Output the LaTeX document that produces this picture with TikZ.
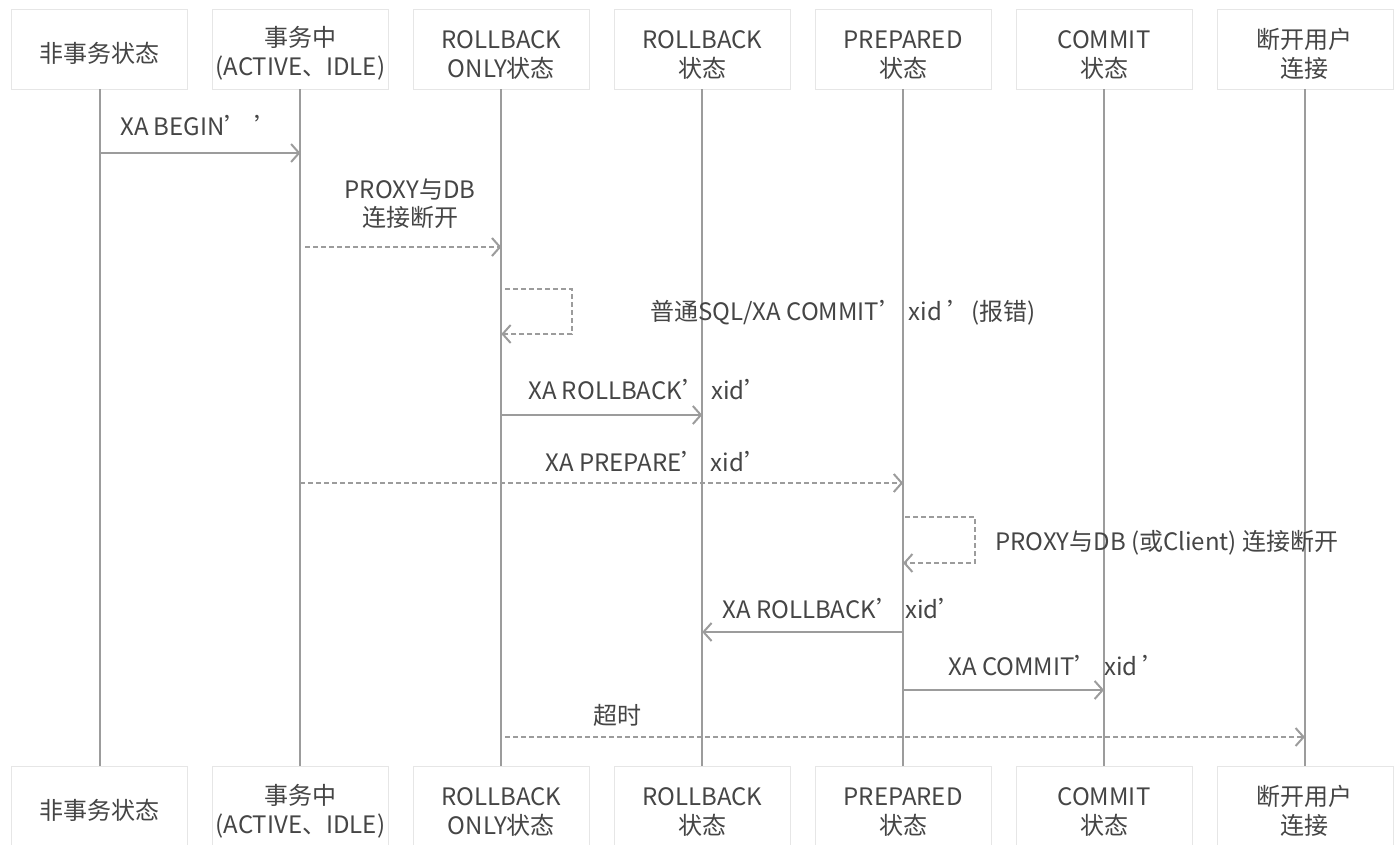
\documentclass[tikz,border=0pt]{standalone}
\usepackage{fontspec}
\usepackage{tikz}
\usetikzlibrary{arrows.meta,positioning,shadows}
\newfontfamily\cjk{Noto Sans CJK SC}
\newcommand{\topgap}{\rule{0pt}{29pt}}
\definecolor{inkgray}{HTML}{454545}
\definecolor{linegray}{HTML}{9C9C9C}
\definecolor{edgegray}{HTML}{E6E6E6}

\begin{document}
\begin{tikzpicture}[x=1pt, y=-1pt,
    node distance=677pt and 24.5pt,
    state/.style={draw=edgegray, fill=white, minimum width=176pt, minimum height=80pt, inner sep=0pt, align=center, text=inkgray, font=\cjk\fontsize{24}{29}\selectfont, drop shadow={shadow xshift=0pt, shadow yshift=-1.5pt, opacity=0.12}},
    life/.style={linegray, line width=2pt},
    msg/.style={linegray, line width=2pt, -{Straight Barb[length=8pt, width=18pt]}},
    dmsg/.style={msg, dash pattern=on 5pt off 3pt},
    lbl/.style={inner sep=0pt, text=inkgray, font=\cjk\fontsize{24}{28}\selectfont, align=center}
  ]
    \useasboundingbox[fill=white] (0,0) rectangle (1399,845);

    % states on top
    \node[state] (nontx) at (99.5,49) {\topgap 非事务状态};
    \node[state, right=of nontx] (intx) {\topgap 事务中\\(ACTIVE、IDLE)};
    \node[state, right=of intx] (rbonly) {\topgap ROLLBACK\\ONLY状态};
    \node[state, right=of rbonly] (rback) {\topgap ROLLBACK\\状态};
    \node[state, right=of rback] (prep) {\topgap PREPARED\\状态};
    \node[state, right=of prep] (commit) {\topgap COMMIT\\状态};
    \node[state, right=of commit] (discon) {\topgap 断开用户\\连接};

    % same states at the bottom
    \node[state, below=of nontx] (nontx-b) {\topgap 非事务状态};
    \node[state, below=of intx] (intx-b) {\topgap 事务中\\(ACTIVE、IDLE)};
    \node[state, below=of rbonly] (rbonly-b) {\topgap ROLLBACK\\ONLY状态};
    \node[state, below=of rback] (rback-b) {\topgap ROLLBACK\\状态};
    \node[state, below=of prep] (prep-b) {\topgap PREPARED\\状态};
    \node[state, below=of commit] (commit-b) {\topgap COMMIT\\状态};
    \node[state, below=of discon] (discon-b) {\topgap 断开用户\\连接};

    \foreach \n in {nontx,intx,rbonly,rback,prep,commit,discon}
      \draw[life] (\n) -- (\n-b);

    % message rows
    \coordinate (r1) at (0,153);
    \coordinate (r2) at (0,247);
    \coordinate (r3) at (0,289);
    \coordinate (r3b) at (0,334);
    \coordinate (r4) at (0,415);
    \coordinate (r5) at (0,483);
    \coordinate (r6) at (0,517);
    \coordinate (r6b) at (0,563);
    \coordinate (r7) at (0,632);
    \coordinate (r8) at (0,690);
    \coordinate (r9) at (0,737);

    \draw[msg] (nontx |- r1) -- (intx |- r1);
    \node[lbl, anchor=base west] (l1) at (120,136) {XA BEGIN’ ’};

    \draw[dmsg] ([xshift=5pt]intx |- r2) -- (rbonly |- r2);
    \node[lbl] (l2) at (410,204) {PROXY与DB\\连接断开};

    \draw[dmsg] ([xshift=4pt]rbonly |- r3) -| ([xshift=71pt]rbonly |- r3b) -- (rbonly |- r3b);
    \node[lbl, anchor=base west] (l3) at (650,320) {普通SQL/XA COMMIT’ xid ’(报错)};

    \draw[msg] (rbonly |- r4) -- (rback |- r4);
    \node[lbl, anchor=base west] (l4) at (528,399) {XA ROLLBACK’ xid’};

    \draw[dmsg] (intx |- r5) -- (prep |- r5);
    \node[lbl, anchor=base west] (l5) at (545,471) {XA PREPARE’ xid’};

    \draw[dmsg] ([xshift=2pt]prep |- r6) -| ([xshift=72pt]prep |- r6b) -- (prep |- r6b);
    \node[lbl, anchor=base west] (l6) at (995,550) {PROXY与DB (或Client) 连接断开};

    \draw[msg] (prep |- r7) -- (rback |- r7);
    \node[lbl, anchor=base west] (l7) at (722,618) {XA ROLLBACK’ xid’};

    \draw[msg] (prep |- r8) -- (commit |- r8);
    \node[lbl, anchor=base west] (l8) at (948,675) {XA COMMIT’ xid ’};

    \draw[dmsg] ([xshift=4pt]rbonly |- r9) -- (discon |- r9);
    \node[lbl, anchor=base] (l9) at (617,724) {超时};
  \end{tikzpicture}
\end{document}
